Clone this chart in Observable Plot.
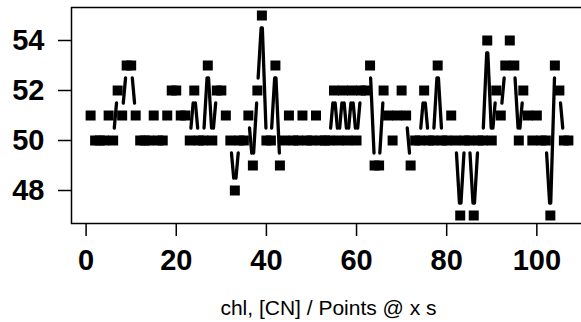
<!DOCTYPE html>
<html>
<head>
<meta charset="utf-8">
<script src="https://cdn.jsdelivr.net/npm/d3@7"></script>
<script src="https://cdn.jsdelivr.net/npm/@observablehq/plot@0.6"></script>
<style>
  html, body { margin: 0; padding: 0; background: white; }
  #wrap { width: 581px; }
  #cap { width: 581px; box-sizing: border-box; padding-left: 76px; text-align: center; font-family: "Liberation Sans", Arial, sans-serif; font-size: 21px; line-height: 26px; color: #000; white-space: nowrap; }
</style>
</head>
<body>
<div id="wrap"></div>
<div id="cap"></div>
<script>
// Series values (index = 1..n)
const values = [51,50,50,50,51,50,52,51,53,53,
                51,50,50,50,51,50,50,51,52,52,
                51,51,50,52,50,50,53,50,52,52,
                51,50,48,50,50,51,49,52,55,50,
                50,53,49,50,51,50,50,51,50,50,
                51,50,50,50,52,50,52,50,52,50,
                52,52,53,49,49,52,51,50,51,52,
                51,49,50,50,52,50,50,53,50,50,
                51,50,47,50,50,47,50,50,54,50,
                52,51,53,54,53,50,52,51,50,51,
                50,50,47,53,52,50,50];
const xTicks = [0, 20, 40, 60, 80, 100];
const yTicks = [48, 50, 52, 54];
const xLabel = "chl, [CN] / Points @ x s";

const data = values.map((v, i) => ({x: i + 1, y: v}));

// R-style axis limits (4% padding)
const xr = [1, values.length];
const yr = [d3.min(values), d3.max(values)];
const xPad = 0.04 * (xr[1] - xr[0]);
const yPad = 0.04 * (yr[1] - yr[0]);
const xDomain = [xr[0] - xPad, xr[1] + xPad];
const yDomain = [yr[0] - yPad, yr[1] + yPad];

const W = 581, H = 295, mL = 71, mR = -6, mT = 7, mB = 72;
const gap = 12.5;

// type="b": segments with gaps around points, computed through Plot scales
const sx = Plot.scale({x: {domain: xDomain, range: [mL, W - mR]}});
const sy = Plot.scale({y: {domain: yDomain, range: [H - mB, mT]}});
const segs = [];
for (let i = 0; i < data.length - 1; i++) {
  const a = data[i], b = data[i + 1];
  const ax = sx.apply(a.x), ay = sy.apply(a.y), bx = sx.apply(b.x), by = sy.apply(b.y);
  const dx = bx - ax, dy = by - ay, len = Math.hypot(dx, dy);
  if (len > 2 * gap + 1) {
    const f = gap / len;
    segs.push({
      x1: sx.invert(ax + dx * f), y1: sy.invert(ay + dy * f),
      x2: sx.invert(bx - dx * f), y2: sy.invert(by - dy * f)
    });
  }
}

const chart = Plot.plot({
  width: W, height: H,
  marginLeft: mL, marginRight: mR, marginTop: mT, marginBottom: mB,
  style: {fontFamily: "Liberation Sans, Arial, sans-serif", fontSize: "29px", fontWeight: "bold", color: "black", background: "white"},
  x: {domain: xDomain},
  y: {domain: yDomain},
  marks: [
    Plot.frame({stroke: "black", strokeWidth: 1.5}),
    Plot.axisX({ticks: xTicks, tickSize: 13, tickPadding: 13, tickFormat: d3.format("d"), label: null, strokeWidth: 1.5, fontSize: 29, fontWeight: "bold"}),
    Plot.axisY({ticks: yTicks, tickSize: 13, tickPadding: 14, tickFormat: d3.format("d"), label: null, strokeWidth: 1.5, fontSize: 29, fontWeight: "bold"}),
    Plot.link(segs, {x1: "x1", y1: "y1", x2: "x2", y2: "y2", stroke: "black", strokeWidth: 3.3, strokeLinecap: "round"}),
    Plot.dot(data, {x: "x", y: "y", symbol: "square", r: 5.64, fill: "black", stroke: "none"})
  ]
});
document.getElementById("wrap").appendChild(chart);
document.getElementById("cap").textContent = xLabel;
</script>
</body>
</html>
